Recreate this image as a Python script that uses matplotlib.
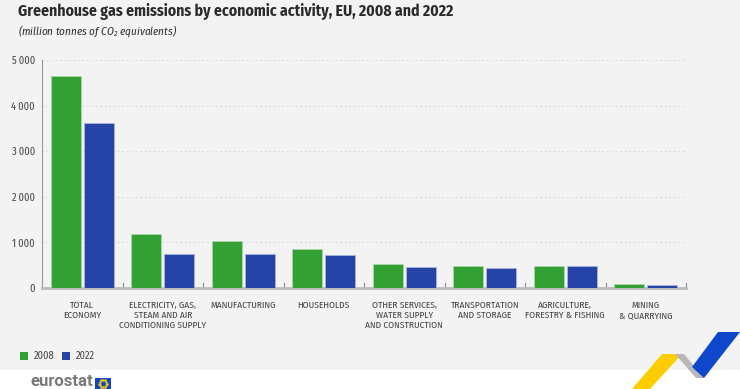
import matplotlib
matplotlib.use("Agg")
import matplotlib.pyplot as plt
import numpy as np
from matplotlib.patches import Polygon, Rectangle

categories = [
    "TOTAL\nECONOMY",
    "ELECTRICITY, GAS,\nSTEAM AND AIR\nCONDITIONING SUPPLY",
    "MANUFACTURING",
    "HOUSEHOLDS",
    "OTHER SERVICES,\nWATER SUPPLY\nAND CONSTRUCTION",
    "TRANSPORTATION\nAND STORAGE",
    "AGRICULTURE,\nFORESTRY & FISHING",
    "MINING\n& QUARRYING",
]
v2008 = [4650, 1187, 1033, 857, 521, 490, 490, 95]
v2022 = [3620, 747, 747, 725, 455, 440, 477, 66]
yticks = [0, 1000, 2000, 3000, 4000, 5000]
ytick_labels = ["0", "1\u2009000", "2\u2009000", "3\u2009000", "4\u2009000", "5\u2009000"]

GREEN, BLUE = "#33a033", "#2644a7"
BG, INK, MUTED = "#f3f3f3", "#2b2b2b", "#444444"
W, H = 740, 389

plt.rcParams["font.family"] = ["Fira Sans Condensed", "Roboto Condensed", "DejaVu Sans"]
plt.rcParams["mathtext.default"] = "regular"

fig = plt.figure(figsize=(W / 100, H / 100), dpi=100)
fig.patch.set_facecolor("white")


def px(x, y):
    return (x / W, 1 - y / H)


# grey background panel
fig.add_artist(Rectangle(px(0, 370), 1, 370 / H, transform=fig.transFigure,
                         facecolor=BG, edgecolor="none", zorder=0))

ax = fig.add_axes([42 / W, 1 - 288 / H, (686 - 42) / W, (288 - 60) / H])
ax.patch.set_alpha(0)

x = np.arange(len(categories))
w = 0.37
ax.bar(x - w / 2 - 0.02, v2008, w, color=GREEN, edgecolor="#a8d5a8", linewidth=0.6,
       zorder=3, label="2008")
ax.bar(x + w / 2 + 0.02, v2022, w, color=BLUE, edgecolor="#a9b5de", linewidth=0.6,
       zorder=3, label="2022")

ax.set_xlim(-0.5, len(categories) - 0.5)
ax.set_ylim(0, 5000)
ax.set_yticks(yticks)
ax.set_yticklabels(ytick_labels, fontsize=7.5, color=MUTED)
ax.grid(axis="y", color="#d8d8d8", linestyle=(0, (1.5, 2.5)), linewidth=0.8, zorder=0)
ax.set_axisbelow(True)
for s in ("top", "right"):
    ax.spines[s].set_visible(False)
ax.spines["left"].set_color("#999999")
ax.spines["bottom"].set_color("#bbbbbb")
ax.spines["bottom"].set_linewidth(2)
ax.tick_params(axis="y", length=0, pad=5)
ax.set_xticks(x)
ax.set_xticklabels(categories, fontsize=6.8, color=MUTED, va="top", linespacing=1.15)
ax.tick_params(axis="x", length=0, pad=9)
# boundary ticks
for b in np.arange(0.5, len(categories), 1.0):
    ax.plot([b, b], [0, 110], color="#888888", linewidth=0.8, zorder=2, clip_on=False)

fig.text(18 / W, 1 - 11 / H, "Greenhouse gas emissions by economic activity, EU, 2008 and 2022",
         fontsize=11.3, fontweight="bold", color=INK, ha="left", va="center")
fig.text(18 / W, 1 - 31 / H, "(million tonnes of CO$_2$ equivalents)",
         fontsize=8, style="italic", color=INK, ha="left", va="center")

# legend
fig.add_artist(Rectangle(px(20, 360), 8 / W, 8 / H, transform=fig.transFigure,
                         facecolor=GREEN, edgecolor="none"))
fig.text(34 / W, 1 - 356 / H, "2008", fontsize=7.5, color=MUTED, va="center")
fig.add_artist(Rectangle(px(62, 360), 8 / W, 8 / H, transform=fig.transFigure,
                         facecolor=BLUE, edgecolor="none"))
fig.text(76 / W, 1 - 356 / H, "2022", fontsize=7.5, color=MUTED, va="center")

# eurostat logo
fig.text(30 / W, 1 - 389 / H, "eurostat", fontsize=12, fontweight="bold",
         color="#7a7a7a", ha="left", va="bottom", family=["Roboto", "DejaVu Sans"])
fig.add_artist(Rectangle(px(95, 389), 16 / W, 11 / H, transform=fig.transFigure,
                         facecolor="#0e47cb", edgecolor="none"))
ang = np.linspace(0, 2 * np.pi, 12, endpoint=False)
fig.add_artist(plt.Line2D((103 + 3.5 * np.cos(ang)) / W, 1 - (383.5 + 3.5 * np.sin(ang)) / H,
                          transform=fig.transFigure, linestyle="none", marker="o",
                          markersize=0.8, color="#ffcc00"))

# decorative ribbon
for pts, col in (
    ([(662, 354), (682, 354), (650, 389), (632, 389)], "#ffcc00"),
    ([(675, 354), (684, 354), (704, 378), (696, 378)], "#b8b8b8"),
    ([(718, 332), (740, 332), (704, 378), (692, 367)], "#0e47cb"),
):
    fig.add_artist(Polygon([px(a, b) for a, b in pts], closed=True,
                           transform=fig.transFigure, facecolor=col, edgecolor="none"))

fig.savefig("out.png", dpi=100, facecolor="white")
